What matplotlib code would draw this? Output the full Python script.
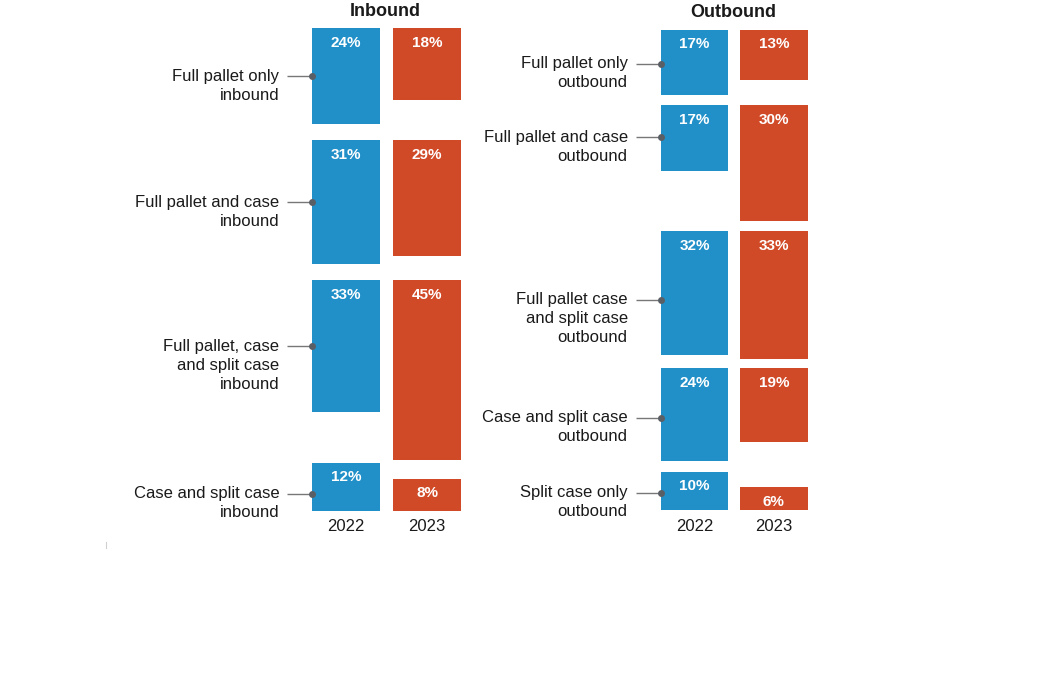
import matplotlib
matplotlib.use("Agg")
import matplotlib.pyplot as plt
from matplotlib.lines import Line2D

plt.rcParams['font.family'] = ['Liberation Sans', 'DejaVu Sans']

# ---------------- data ----------------
years = ["2022", "2023"]

inbound_labels = [
    "Full pallet only\ninbound",
    "Full pallet and case\ninbound",
    "Full pallet, case\nand split case\ninbound",
    "Case and split case\ninbound",
]
inbound_2022 = [24, 31, 33, 12]
inbound_2023 = [18, 29, 45, 8]

outbound_labels = [
    "Full pallet only\noutbound",
    "Full pallet and case\noutbound",
    "Full pallet case\nand split case\noutbound",
    "Case and split case\noutbound",
    "Split case only\noutbound",
]
outbound_2022 = [17, 17, 32, 24, 10]
outbound_2023 = [13, 30, 33, 19, 6]

# ---------------- style / layout ----------------
BLUE = "#2190C8"
RED = "#D14A27"
GREY = "#777777"
TEXT = "#1a1a1a"
W, H = 1054, 677

fig = plt.figure(figsize=(W / 100, H / 100), dpi=100)
fig.patch.set_facecolor("white")


def panel(title, labels, v22, v23, left, right, top, bottom, span, gap,
          barw, nudges):
    ax = fig.add_axes([left / W, 1 - bottom / H, (right - left) / W,
                       (bottom - top) / H])
    ax.set_xlim(-0.5, 1.5)
    ax.set_ylim(span, 0)
    ax.axis("off")
    ppu_x = (right - left) / 2.0
    ppu_y = (bottom - top) / span

    n = len(labels)
    row_top = 0.0
    for i in range(n):
        vals = (v22[i], v23[i])
        last = (i == n - 1)
        for j, (v, c) in enumerate(zip(vals, (BLUE, RED))):
            y0 = span - v if last else row_top
            ax.bar(j, v, bottom=y0, width=barw, color=c, align="center",
                   linewidth=0)
            ax.annotate(f"{v}%", xy=(j, y0), xytext=(0, -14.7),
                        textcoords="offset pixels", ha="center", va="center",
                        color="white", fontsize=11, fontweight="bold")
        # label & leader
        y0_22 = span - v22[i] if last else row_top
        yc = y0_22 + v22[i] / 2.0 + nudges[i] / ppu_y
        xl = -barw / 2.0
        ax.plot([xl - 25 / ppu_x, xl], [yc, yc], color=GREY, lw=1.0,
                solid_capstyle="butt", zorder=3, clip_on=False)
        ax.plot([xl], [yc], "o", color="#5a5f66", ms=5, mec="none",
                zorder=4, clip_on=False)
        for k, line in enumerate(labels[i].split("\n")):
            ax.annotate(line, xy=(xl, yc), xytext=(-33, -19 * k),
                        textcoords="offset pixels", ha="right", va="center",
                        fontsize=12, color=TEXT, annotation_clip=False)
        row_top += max(vals) + gap

    for j, yr in enumerate(years):
        ax.annotate(yr, xy=(j, span), xytext=(0, -16),
                    textcoords="offset pixels", ha="center", va="center",
                    fontsize=12, color=TEXT, annotation_clip=False)
    ax.annotate(title, xy=(0.5, 0), xytext=(-1, 12.6),
                textcoords="offset pixels", ha="center", va="baseline",
                fontsize=13, fontweight="bold", color=TEXT,
                annotation_clip=False)
    return ax


panel("Inbound", inbound_labels, inbound_2022, inbound_2023,
      left=305.7, right=467.7, top=28.3, bottom=510.7, span=120.6, gap=4.0,
      barw=0.836, nudges=[0, 0, 0, 7])
panel("Outbound", outbound_labels, outbound_2022, outbound_2023,
      left=654.8, right=813.5, top=29.7, bottom=510.3, span=124.2, gap=2.5,
      barw=0.853, nudges=[1, -1, 7, 3, 2])

# faint stray tick at the lower left
fig.add_artist(Line2D([105.7 / W, 105.7 / W], [1 - 548 / H, 1 - 542 / H],
                      color="#d0d0d0", lw=0.8))

fig.savefig("out.png", dpi=100, facecolor="white")
